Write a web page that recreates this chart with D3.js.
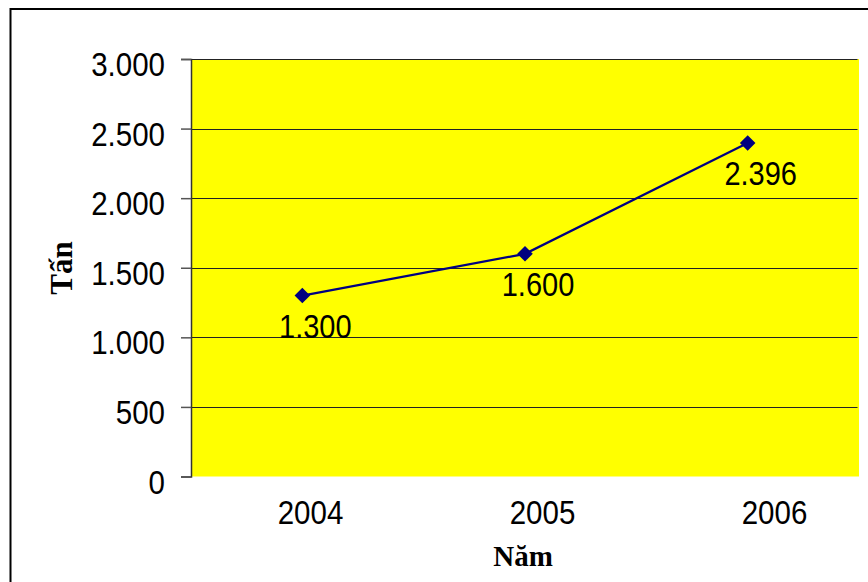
<!DOCTYPE html>
<html><head><meta charset="utf-8">
<script src="https://cdn.jsdelivr.net/npm/d3@7"></script>
<style>body{margin:0;background:#fff}svg{display:block}</style>
</head><body>
<script>
const years = ["2004", "2005", "2006"];
const values = [1300, 1600, 2396];
const labels = ["1.300", "1.600", "2.396"];
const yTicks = [0, 500, 1000, 1500, 2000, 2500, 3000];
const yTickLabels = ["0", "500", "1.000", "1.500", "2.000", "2.500", "3.000"];

(function () {
const W = 868, H = 582;
const pL = 191, pR = 859, pT = 59, pB = 476.5;
const svg = d3.select("body").append("svg").attr("width", W).attr("height", H);

svg.append("rect").attr("x", 10.5).attr("y", 9).attr("width", 880).attr("height", 600)
  .attr("fill", "#fff").attr("stroke", "#000").attr("stroke-width", 2);

const x = d3.scaleBand().domain(years).range([pL, pR]);
const xLab = d3.scalePoint().domain(years).range([310, 774]);
const y = d3.scaleLinear().domain([0, 3000]).range([pB, pT]);

svg.append("rect").attr("x", pL).attr("y", pT).attr("width", pR - pL).attr("height", pB - pT)
  .attr("fill", "#ffff00");

// gridlines
svg.append("g").selectAll("line").data(yTicks.filter(d => d > 0)).join("line")
  .attr("x1", pL).attr("x2", pR - 1.5).attr("y1", d => Math.round(y(d)) + 0.5).attr("y2", d => Math.round(y(d)) + 0.5)
  .attr("stroke", "#222").attr("stroke-width", 1);

// y axis
const yAxis = svg.append("g").attr("transform", `translate(${pL},0)`)
  .call(d3.axisLeft(y).tickValues(yTicks).tickFormat((d, i) => yTickLabels[i]).tickSize(10).tickPadding(16));
yAxis.select(".domain").attr("stroke", "#333").attr("stroke-width", 1.5);
yAxis.selectAll(".tick line").attr("stroke", "#555").attr("stroke-width", 1.5);
yAxis.selectAll(".tick text").each(function () {
  const t = d3.select(this);
  const xx = +t.attr("x");
  t.attr("x", null).attr("dy", null)
    .attr("transform", `translate(${xx},${16.5}) scale(1,1.13)`);
}).attr("font-family", "Liberation Sans, Arial, sans-serif").attr("font-size", 29.5).attr("fill", "#000");

// x labels
const xAxis = svg.append("g").attr("transform", `translate(0,${pB})`)
  .call(d3.axisBottom(xLab).tickSize(0).tickPadding(0));
xAxis.select(".domain").remove();
xAxis.selectAll(".tick text").each(function () {
  d3.select(this).attr("y", null).attr("dy", null).attr("transform", `translate(0,47.5) scale(1,1.13)`);
}).attr("font-family", "Liberation Sans, Arial, sans-serif").attr("font-size", 29.5).attr("fill", "#000");

// line
const cx = d => x(d) + x.bandwidth() / 2;
svg.append("path").datum(values)
  .attr("d", d3.line().x((d, i) => cx(years[i])).y(d => y(d)))
  .attr("fill", "none").attr("stroke", "#000080").attr("stroke-width", 2.2);

svg.append("g").selectAll("path").data(values).join("path")
  .attr("d", d3.symbol(d3.symbolSquare, 121))
  .attr("transform", (d, i) => `translate(${cx(years[i])},${y(d)}) rotate(45)`)
  .attr("fill", "#000080");

// data labels
svg.append("g").selectAll("text").data(values).join("text")
  .attr("transform", (d, i) => `translate(${cx(years[i]) + 13},${y(d) + 42}) scale(1,1.13)`)
  .attr("text-anchor", "middle")
  .attr("font-family", "Liberation Sans, Arial, sans-serif").attr("font-size", 29).attr("fill", "#000")
  .text((d, i) => labels[i]);

// axis titles
svg.append("text").attr("transform", "translate(72,268) rotate(-90)")
  .attr("text-anchor", "middle").attr("font-family", "Liberation Serif, Times New Roman, serif")
  .attr("font-weight", "bold").attr("font-size", 31).text("Tấn");
svg.append("text").attr("x", 523).attr("y", 566)
  .attr("text-anchor", "middle").attr("font-family", "Liberation Serif, Times New Roman, serif")
  .attr("font-weight", "bold").attr("font-size", 29).text("Năm");
})();
</script>
</body></html>
